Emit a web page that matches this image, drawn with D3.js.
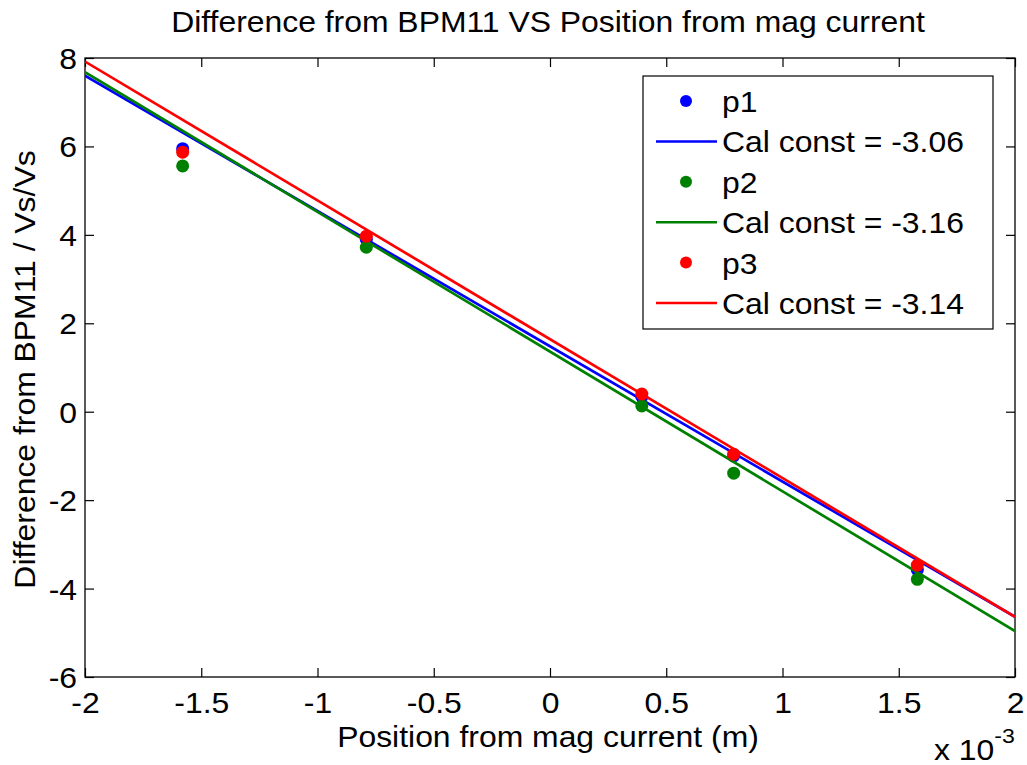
<!DOCTYPE html>
<html>
<head>
<meta charset="utf-8">
<script src="https://cdn.jsdelivr.net/npm/d3@7"></script>
<style>
  html, body { margin: 0; padding: 0; background: #fff; }
  svg { display: block; }
  text { font-family: "Liberation Sans", Arial, Helvetica, sans-serif; fill: #000; }
</style>
</head>
<body>
<svg id="chart" width="1027" height="765"></svg>
<script>
// Sample positions (m) and measured differences for each pickup
const positions = [-1.58e-3, -0.79e-3, 0.395e-3, 0.79e-3, 1.58e-3];
const p1 = [5.95, 3.90, 0.34, -1.00, -3.58];
const p2 = [5.56, 3.72, 0.13, -1.39, -3.79];
const p3 = [5.87, 3.97, 0.40, -0.96, -3.47];

// Linear fits: slope (per mm) is the calibration constant
const calConst = [-3.06, -3.16, -3.14];
const intercepts = [1.48, 1.36, 1.64];

const seriesNames = ["p1", "p2", "p3"];
const seriesColors = ["#0000ff", "#008000", "#ff0000"];

const xTicks = [-2e-3, -1.5e-3, -1e-3, -0.5e-3, 0, 0.5e-3, 1e-3, 1.5e-3, 2e-3];
const xTickLabels = ["-2", "-1.5", "-1", "-0.5", "0", "0.5", "1", "1.5", "2"];
const yTicks = [-6, -4, -2, 0, 2, 4, 6, 8];
const yTickLabels = ["-6", "-4", "-2", "0", "2", "4", "6", "8"];

const titleText = "Difference from BPM11 VS Position from mag current";
const xLabelText = "Position from mag current (m)";
const yLabelText = "Difference from BPM11 / Vs/Vs";

// ---- layout ----
const plot = { left: 85, right: 1015, top: 58, bottom: 677 };
const FONT = 29;
const STRETCH = 1.1;   // wide glyph rendering

const svg = d3.select("#chart");

const x = d3.scaleLinear().domain([-2e-3, 2e-3]).range([plot.left, plot.right]);
const y = d3.scaleLinear().domain([-6, 8]).range([plot.bottom, plot.top]);

function label(parent, px, py, str, anchor, size, rotate, stretch) {
  const g = parent.append("g")
    .attr("transform", `translate(${px},${py})` + (rotate ? ` rotate(${rotate})` : "") + ` scale(${stretch},1)`);
  return g.append("text")
    .attr("text-anchor", anchor)
    .style("font-size", size + "px")
    .text(str);
}

// ---- axes ----
const tickLen = 9;
const fmtX = (d) => xTickLabels[xTicks.indexOf(d)];
const fmtY = (d) => yTickLabels[yTicks.indexOf(d)];

const gBottom = svg.append("g").attr("transform", `translate(0,${plot.bottom})`)
  .call(d3.axisBottom(x).tickValues(xTicks).tickFormat(fmtX).tickSizeInner(-tickLen).tickSizeOuter(0).tickPadding(15));
const gLeft = svg.append("g").attr("transform", `translate(${plot.left},0)`)
  .call(d3.axisLeft(y).tickValues(yTicks).tickFormat(fmtY).tickSizeInner(-tickLen).tickSizeOuter(0).tickPadding(8));
svg.append("g").attr("transform", `translate(0,${plot.top})`)
  .call(d3.axisTop(x).tickValues(xTicks).tickFormat("").tickSizeInner(-tickLen).tickSizeOuter(0));
svg.append("g").attr("transform", `translate(${plot.right},0)`)
  .call(d3.axisRight(y).tickValues(yTicks).tickFormat("").tickSizeInner(-tickLen).tickSizeOuter(0));

svg.selectAll(".domain").remove();
svg.selectAll(".tick line").attr("stroke", "#000").attr("stroke-width", 1.2);

gBottom.selectAll("text")
  .attr("fill", "#000").style("font-size", FONT + "px")
  .attr("transform", `scale(${STRETCH},1)`)
  .attr("y", 15).attr("dy", "0.71em");
gLeft.selectAll("text")
  .attr("fill", "#000").style("font-size", FONT + "px")
  .attr("x", -8 / STRETCH).attr("dy", "0.36em")
  .attr("transform", `scale(${STRETCH},1)`);
svg.selectAll(".tick text").style("font-family", "'Liberation Sans', Arial, sans-serif");

// ---- plot frame ----
svg.append("rect")
  .attr("x", plot.left).attr("y", plot.top)
  .attr("width", plot.right - plot.left).attr("height", plot.bottom - plot.top)
  .attr("fill", "none").attr("stroke", "#000").attr("stroke-width", 1.3);

// ---- data ----
svg.append("clipPath").attr("id", "clip")
  .append("rect").attr("x", plot.left).attr("y", plot.top)
  .attr("width", plot.right - plot.left).attr("height", plot.bottom - plot.top);
const gData = svg.append("g").attr("clip-path", "url(#clip)");

const allSeries = [p1, p2, p3];
const line = d3.line().x(d => x(d[0])).y(d => y(d[1]));

allSeries.forEach((vals, i) => {
  const pts = positions.map((p, j) => [p, vals[j]]);
  gData.selectAll(null).data(pts).enter().append("circle")
    .attr("cx", d => x(d[0])).attr("cy", d => y(d[1]))
    .attr("r", 6.5).attr("fill", seriesColors[i]);
  const fit = x.domain().map(xv => [xv, intercepts[i] + calConst[i] * (xv / 1e-3)]);
  gData.append("path").datum(fit)
    .attr("d", line).attr("fill", "none")
    .attr("stroke", seriesColors[i]).attr("stroke-width", 2.7);
});

// ---- text ----
const cx = (plot.left + plot.right) / 2;
label(svg, cx - 2, 32, titleText, "middle", FONT, 0, STRETCH);
label(svg, cx - 2, 747, xLabelText, "middle", FONT, 0, STRETCH);
label(svg, 35, (plot.top + plot.bottom) / 2 + 2, yLabelText, "middle", FONT, -90, STRETCH);

// exponent note for the x axis
const expG = svg.append("g").attr("transform", `translate(934,760) scale(${STRETCH},1)`);
const expText = expG.append("text").style("font-size", FONT + "px");
expText.append("tspan").text("x 10");
expText.append("tspan").attr("dy", -17).style("font-size", "21px").text("-3");

// ---- legend ----
const legend = { left: 643, top: 76, right: 993, bottom: 329 };
svg.append("rect")
  .attr("x", legend.left).attr("y", legend.top)
  .attr("width", legend.right - legend.left).attr("height", legend.bottom - legend.top)
  .attr("fill", "#fff").attr("stroke", "#000").attr("stroke-width", 1.2);

const rowY = d3.scaleLinear().domain([0, 5]).range([101, 303]);
seriesNames.forEach((name, i) => {
  const yPt = rowY(2 * i), yLn = rowY(2 * i + 1);
  svg.append("circle").attr("cx", 686).attr("cy", yPt).attr("r", 6).attr("fill", seriesColors[i]);
  label(svg, 722, yPt + 11, name, "start", FONT, 0, STRETCH);
  svg.append("line").attr("x1", 656).attr("x2", 717).attr("y1", yLn).attr("y2", yLn)
    .attr("stroke", seriesColors[i]).attr("stroke-width", 2.5);
  label(svg, 722, yLn + 11, `Cal const = ${calConst[i].toFixed(2)}`, "start", FONT, 0, STRETCH);
});
</script>
</body>
</html>
